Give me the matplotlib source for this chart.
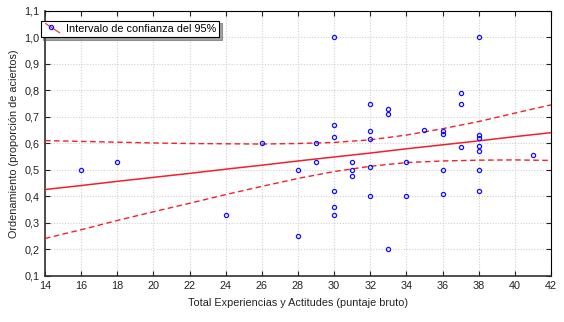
import matplotlib
matplotlib.use('Agg')
import matplotlib.pyplot as plt
from matplotlib.lines import Line2D
from matplotlib.legend_handler import HandlerBase
from matplotlib.ticker import FuncFormatter

# Scatter points
x_points = [16, 18, 24, 26, 28, 28, 29, 29,
            30, 30, 30, 30, 30, 30, 31, 31, 31,
            32, 32, 32, 32, 32, 33, 33, 33, 34, 34, 35,
            36, 36, 36, 36, 37, 37, 37,
            38, 38, 38, 38, 38, 38, 38, 41]
y_points = [0.50, 0.53, 0.33, 0.60, 0.50, 0.25, 0.60, 0.53,
            1.00, 0.67, 0.625, 0.42, 0.36, 0.33, 0.53, 0.50, 0.475,
            0.75, 0.645, 0.615, 0.51, 0.40, 0.73, 0.71, 0.20, 0.53, 0.40, 0.65,
            0.645, 0.635, 0.50, 0.41, 0.79, 0.75, 0.585,
            1.00, 0.63, 0.62, 0.59, 0.57, 0.50, 0.42, 0.555]

# Regression line and 95% band, read at every 2 units of x
x_line = [14, 16, 18, 20, 22, 24, 26, 28, 30, 32, 34, 36, 38, 40, 42]
y_fit = [0.425, 0.440, 0.456, 0.471, 0.486, 0.502, 0.517, 0.533,
         0.548, 0.563, 0.579, 0.594, 0.609, 0.625, 0.640]
y_upper = [0.610, 0.607, 0.604, 0.601, 0.599, 0.598, 0.597, 0.599,
           0.603, 0.613, 0.631, 0.655, 0.682, 0.714, 0.745]
y_lower = [0.240, 0.273, 0.308, 0.341, 0.373, 0.406, 0.437, 0.467,
           0.493, 0.513, 0.527, 0.533, 0.536, 0.537, 0.535]

x_ticks = list(range(14, 43, 2))
y_ticks = [0.1, 0.2, 0.3, 0.4, 0.5, 0.6, 0.7, 0.8, 0.9, 1.0, 1.1]

red = '#f0202c'
blue = '#1010ff'
fs = 7.8

plt.rcParams['font.family'] = ['Liberation Sans', 'DejaVu Sans']


class DiagHandler(HandlerBase):
    def create_artists(self, legend, orig_handle, xdescent, ydescent,
                       width, height, fontsize, trans):
        line = Line2D([0.1 * width, 0.9 * width], [height * 1.1, -0.1 * height],
                      color=red, lw=0.8, transform=trans)
        dot = Line2D([0.4 * width], [height * 0.65], marker='o', mfc='none',
                     mec=blue, ms=3.0, mew=0.9, transform=trans)
        return [line, dot]


fig = plt.figure(figsize=(5.64, 3.22), dpi=100)
ax = fig.add_axes([45 / 564, 1 - 275.5 / 322, 506 / 564, 264.5 / 322])

ax.plot(x_line, y_upper, color=red, lw=1.0, dashes=(4, 2.5), zorder=3)
ax.plot(x_line, y_lower, color=red, lw=1.0, dashes=(4, 2.5), zorder=3)
ax.plot(x_line, y_fit, color=red, lw=1.1, zorder=3)
ax.plot(x_points, y_points, linestyle='none', marker='o', mfc='none',
        mec=blue, ms=3.0, mew=0.9, zorder=4)

ax.set_xlim(14, 42)
ax.set_ylim(0.1, 1.1)
ax.set_xticks(x_ticks)
ax.set_yticks(y_ticks)
ax.yaxis.set_major_formatter(FuncFormatter(lambda v, p: f'{v:.1f}'.replace('.', ',')))

ax.grid(True, color='#d0d0d0', linestyle=(0, (1, 1.5)), lw=0.8)
ax.set_axisbelow(True)
ax.tick_params(direction='in', length=3.5, width=0.8, top=True, right=True,
               labelsize=fs, pad=4, colors='#222222')
for side in ['top', 'right']:
    ax.spines[side].set_linewidth(0.8)
for side in ['left', 'bottom']:
    ax.spines[side].set_linewidth(1.2)
    ax.spines[side].set_color('#303030')

ax.set_xlabel('Total Experiencias y Actitudes (puntaje bruto)', fontsize=fs,
              labelpad=5, color='#222222')
ax.set_ylabel('Ordenamiento (proporción de aciertos)', fontsize=fs,
              labelpad=4, color='#222222')

handle = Line2D([], [], color=red)
leg = ax.legend([handle], ['Intervalo de confianza del 95%'],
                handler_map={Line2D: DiagHandler()},
                loc='upper left', bbox_to_anchor=(40.7 / 564, 1 - 20.7 / 322),
                bbox_transform=fig.transFigure, borderaxespad=0,
                fontsize=fs, fancybox=False, shadow=True, framealpha=1,
                edgecolor='black', handlelength=1.6, handletextpad=0.4,
                borderpad=0.3)
leg.get_frame().set_linewidth(0.8)

fig.savefig('out.png', dpi=100)
